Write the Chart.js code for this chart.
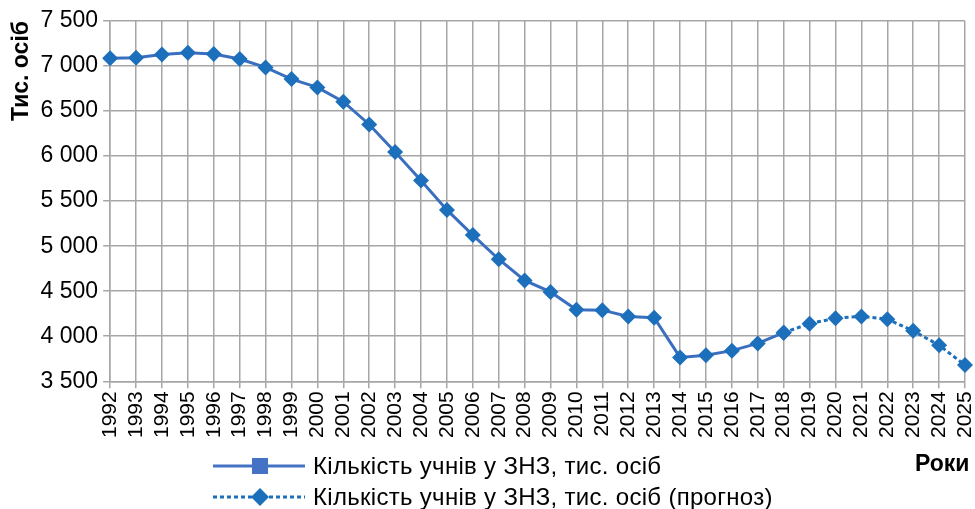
<!DOCTYPE html>
<html>
<head>
<meta charset="utf-8">
<script src="https://cdn.jsdelivr.net/npm/chart.js@4"></script>
<style>
    body { margin: 0; background: #fff; }
    #wrap { position: relative; width: 975px; height: 509px; font-family: "Liberation Sans", Arial, sans-serif; }
    #legend { position: absolute; left: 213px; top: 450px; font-size: 24px; letter-spacing: 0.3px; color: #000; }
    .row { display: flex; align-items: center; height: 31px; }
    .row svg { margin-right: 8px; }
    #xtitle { position: absolute; left: 915px; top: 450px; font-size: 23px; font-weight: bold; }
</style>
</head>
<body>
<div id="wrap">
    <canvas id="myChart" width="975" height="509"></canvas>
    <div id="legend">
        <div class="row">
            <svg width="92" height="20"><line x1="0" y1="10" x2="92" y2="10" stroke="#4472C4" stroke-width="3"/><rect x="39" y="2" width="16" height="16" fill="#4472C4"/></svg>
            <span>Кількість учнів у ЗНЗ, тис. осіб</span>
        </div>
        <div class="row">
            <svg width="92" height="22"><line x1="0" y1="11" x2="92" y2="11" stroke="#1C6FBA" stroke-width="3" stroke-dasharray="4 3"/><polygon points="47,2 56,11 47,20 38,11" fill="#1C6FBA"/></svg>
            <span>Кількість учнів у ЗНЗ, тис. осіб (прогноз)</span>
        </div>
    </div>
    <div id="xtitle">Роки</div>
</div>
<script>
// роки
const years = [
    "1992", "1993", "1994", "1995", "1996", "1997", "1998", "1999", "2000", "2001", "2002",
    "2003", "2004", "2005", "2006", "2007", "2008", "2009", "2010", "2011", "2012", "2013",
    "2014", "2015", "2016", "2017", "2018", "2019", "2020", "2021", "2022", "2023", "2024", "2025"
];

// фактичні дані, тис. осіб (1992-2018)
const actual = [
    7086, 7092, 7128, 7148, 7133, 7078, 6985, 6855, 6763, 6604, 6351,
    6045, 5728, 5403, 5123, 4855, 4620, 4492, 4295, 4290, 4220, 4205,
    3765, 3790, 3840, 3920, 4040
];

// прогноз, тис. осіб (2018-2025)
const forecast = [4040, 4140, 4200, 4220, 4190, 4060, 3900, 3680];

const labelActual = "Кількість учнів у ЗНЗ, тис. осіб";
const labelForecast = "Кількість учнів у ЗНЗ, тис. осіб (прогноз)";

const yMin = 3500;
const yMax = 7500;
const yStep = 500;

const forecastStart = years.indexOf("2018");
const forecastData = years.map((y, i) => (i < forecastStart ? null : forecast[i - forecastStart]));

const font = "'Liberation Sans', Arial, sans-serif";
const gridColor = "#A6A6A6";

new Chart(document.getElementById("myChart"), {
    type: "line",
    data: {
        labels: years,
        datasets: [
            {
                label: labelForecast,
                data: forecastData,
                borderColor: "#1C6FBA",
                borderWidth: 3,
                borderDash: [4, 3],
                pointStyle: "rectRot",
                pointRadius: 8,
                pointBackgroundColor: "#1C6FBA",
                pointBorderColor: "#1C6FBA",
                pointBorderWidth: 0,
                tension: 0,
            },
            {
                label: labelActual,
                data: actual,
                borderColor: "#3A6FC0",
                borderWidth: 3,
                pointStyle: "rectRot",
                pointRadius: 8,
                pointBackgroundColor: "#1C6FBA",
                pointBorderColor: "#1C6FBA",
                pointBorderWidth: 0,
                tension: 0,
            },
        ],
    },
    options: {
        responsive: false,
        animation: false,
        layout: { padding: { top: 21, right: 0, left: 8, bottom: 68 } },
        plugins: {
            legend: { display: false },
            tooltip: { enabled: false },
        },
        scales: {
            x: {
                offset: false,
                grid: { color: gridColor, lineWidth: 1.5, tickLength: 7 },
                border: { color: gridColor, width: 1.5 },
                ticks: {
                    autoSkip: false,
                    maxRotation: 90,
                    minRotation: 90,
                    padding: 3,
                    color: "#000",
                    font: { family: font, size: 21 },
                },
                // last rotated label needs less room than Chart.js reserves
                afterFit: (scale) => { scale.paddingRight = 10; },
            },
            y: {
                min: yMin,
                max: yMax,
                grid: { color: gridColor, lineWidth: 1.5, tickLength: 7 },
                border: { color: gridColor, width: 1.5 },
                ticks: {
                    stepSize: yStep,
                    padding: 5,
                    color: "#000",
                    font: { family: font, size: 23 },
                    callback: (v) => String(v).replace(/(\d)(\d{3})$/, "$1 $2"),
                },
                title: {
                    display: true,
                    text: "Тис. осіб",
                    align: "end",
                    color: "#000",
                    padding: { top: 0, bottom: 0 },
                    font: { family: font, size: 23, weight: "bold" },
                },
            },
        },
    },
});
</script>
</body>
</html>
